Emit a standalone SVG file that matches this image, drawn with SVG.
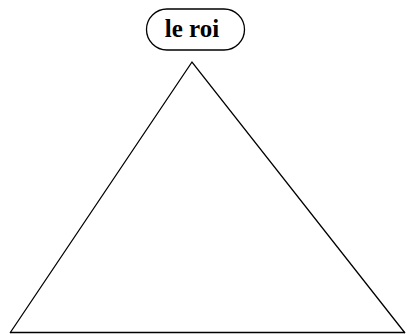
<svg xmlns="http://www.w3.org/2000/svg" width="407" height="334" viewBox="0 0 407 334">
<style>
.ln{fill:none;stroke:#000;stroke-width:1.3}
.lbl{font-family:"Liberation Serif",serif;font-weight:bold;font-size:25px;text-anchor:middle}
</style>
<rect width="407" height="334" fill="#fff"/>
<g id="roi">
<rect class="ln" x="146.5" y="9" width="98" height="41" rx="20.5" stroke-width="1.6"/>
<text class="lbl" x="192" y="37">le roi</text>
</g>
<g id="connectors">
<polyline class="ln" points="10,333 192,62 405,333"/>
<line class="ln" x1="10" y1="332.5" x2="405" y2="332.5"/>
</g>
</svg>
